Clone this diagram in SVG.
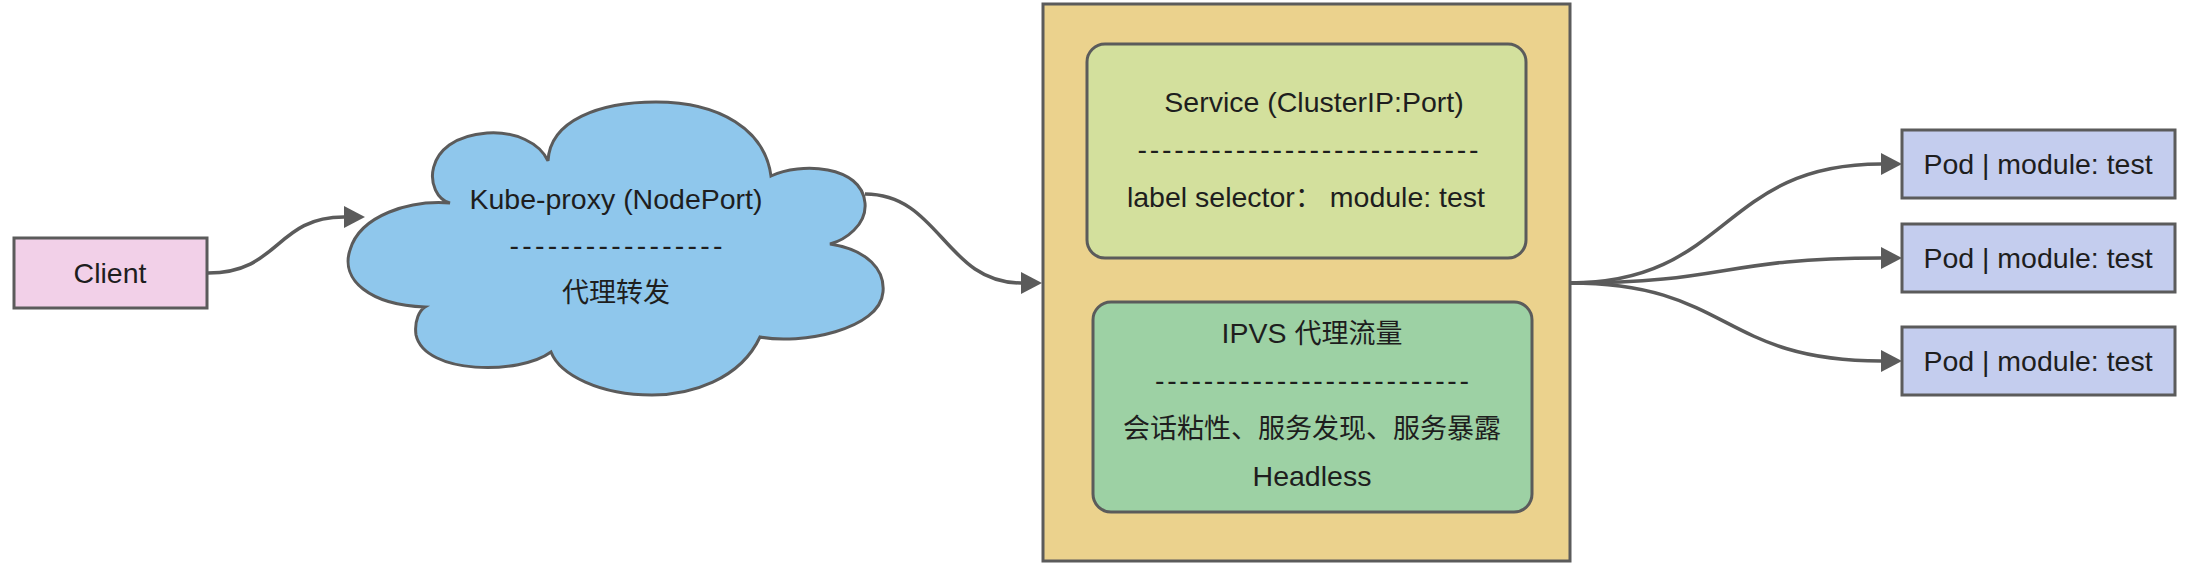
<svg xmlns="http://www.w3.org/2000/svg" width="2189" height="566" viewBox="0 0 2189 566">
<style>
  .box { stroke: #5b5b5b; stroke-width: 3; }
  .t { font-family: "Liberation Sans", "Noto Sans CJK SC", sans-serif; font-size: 28.5px; fill: #1e1e1e; text-anchor: middle; }
  .c { font-size: 27px; }
  .edge { fill: none; stroke: #5b5b5b; stroke-width: 3.5; marker-end: url(#arr); }
</style>
<defs>
  <marker id="arr" markerUnits="userSpaceOnUse" markerWidth="22" markerHeight="24" refX="0" refY="12" orient="auto">
    <path d="M0,1 L21,12 L0,23 Z" fill="#5b5b5b"/>
  </marker>
</defs>
<rect width="2189" height="566" fill="#ffffff"/>

<g id="client">
  <rect class="box" x="14" y="238" width="193" height="70" fill="#f2d0e8"/>
  <text class="t" x="110" y="283">Client</text>
</g>

<g id="kube-proxy">
  <path class="box" fill="#8fc7ec" d="M450,203 C424,196 420,138 487,133 C515,131 540,143 548,161 C550,120 600,102 656,102 C720,102 765,130 771,176 C800,162 862,165 865,203 C867,225 845,240 830,244 C868,250 885,270 883,292 C880,330 800,345 760,337 C740,380 690,395 652,395 C600,395 560,375 551,352 C520,375 425,375 416,335 C414,320 420,310 425,307 C370,305 340,280 350,250 C360,215 410,200 450,203 Z"/>
  <text class="t" x="616" y="209">Kube-proxy (NodePort)</text>
  <text class="t" x="616" y="255" textLength="213" lengthAdjust="spacing">-----------------</text>
  <text class="t c" x="616" y="302">代理转发</text>
</g>

<g id="node-host">
  <rect class="box" x="1043" y="4" width="527" height="557" fill="#ebd28d"/>
</g>

<g id="service">
  <rect class="box" x="1087" y="44" width="439" height="214" rx="18" fill="#d3e09d"/>
  <text class="t" x="1314" y="112">Service (ClusterIP:Port)</text>
  <text class="t" x="1308" y="159" textLength="341" lengthAdjust="spacing">----------------------------</text>
  <text class="t" x="1306" y="207">label selector<tspan class="c">：</tspan> module: test</text>
</g>

<g id="ipvs">
  <rect class="box" x="1093" y="302" width="439" height="210" rx="18" fill="#9dd1a4"/>
  <text class="t" x="1312" y="343">IPVS <tspan class="c">代理流量</tspan></text>
  <text class="t" x="1312" y="390" textLength="314" lengthAdjust="spacing">--------------------------</text>
  <text class="t c" x="1312" y="438">会话粘性、服务发现、服务暴露</text>
  <text class="t" x="1312" y="486">Headless</text>
</g>

<g id="pod1">
  <rect class="box" x="1902" y="130" width="273" height="68" fill="#c4cdee"/>
  <text class="t" x="2038" y="174">Pod | module: test</text>
</g>
<g id="pod2">
  <rect class="box" x="1902" y="224" width="273" height="68" fill="#c4cdee"/>
  <text class="t" x="2038" y="268">Pod | module: test</text>
</g>
<g id="pod3">
  <rect class="box" x="1902" y="327" width="273" height="68" fill="#c4cdee"/>
  <text class="t" x="2038" y="371">Pod | module: test</text>
</g>

<g id="connectors">
  <path class="edge" d="M208,273 C280,273 275,217 344,217"/>
  <path class="edge" d="M865,194 C940,194 945,283 1021,283"/>
  <path class="edge" d="M1570,283 C1730,283 1720,164 1881,164"/>
  <path class="edge" d="M1570,283 C1730,283 1720,258 1881,258"/>
  <path class="edge" d="M1570,283 C1730,283 1720,361 1881,361"/>
</g>
</svg>
